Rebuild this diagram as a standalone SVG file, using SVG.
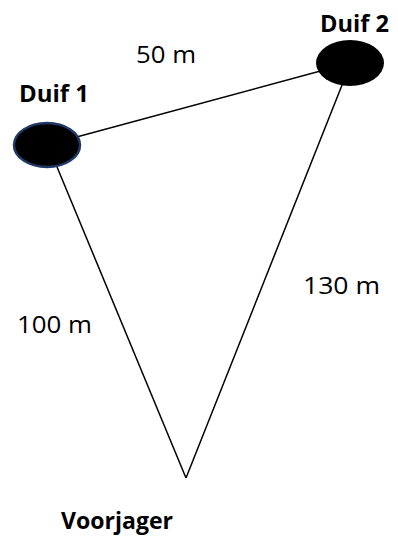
<svg xmlns="http://www.w3.org/2000/svg" width="398" height="541" viewBox="0 0 398 541">
<style>
.t{font-family:"Open Sans","Liberation Sans",sans-serif;font-size:23px;fill:#000}
.b{font-weight:bold}
.ln{stroke:#000;stroke-width:1.5;fill:none}
</style>
<rect width="398" height="541" fill="#fff"/>
<g id="connectors">
<line class="ln" x1="47" y1="145" x2="350" y2="63"/>
<line class="ln" x1="50" y1="150" x2="186" y2="478"/>
<line class="ln" x1="348" y1="70" x2="186" y2="478"/>
</g>
<g id="duif1">
<ellipse cx="47" cy="145" rx="33" ry="22" fill="#000" stroke="#1F3864" stroke-width="2.5"/>
<text class="t b" x="19" y="101.5" textLength="70" lengthAdjust="spacingAndGlyphs">Duif 1</text>
</g>
<g id="duif2">
<ellipse cx="350" cy="63" rx="34" ry="23" fill="#000"/>
<text class="t b" x="320" y="31.5" textLength="69" lengthAdjust="spacingAndGlyphs">Duif 2</text>
</g>
<g id="voorjager">
<text class="t b" x="61" y="529" textLength="112" lengthAdjust="spacingAndGlyphs">Voorjager</text>
</g>
<g id="labels">
<text class="t" x="136" y="62.5" textLength="60" lengthAdjust="spacingAndGlyphs">50 m</text>
<text class="t" x="303" y="294" textLength="77" lengthAdjust="spacingAndGlyphs">130 m</text>
<text class="t" x="17" y="332.5" textLength="75" lengthAdjust="spacingAndGlyphs">100 m</text>
</g>
</svg>
